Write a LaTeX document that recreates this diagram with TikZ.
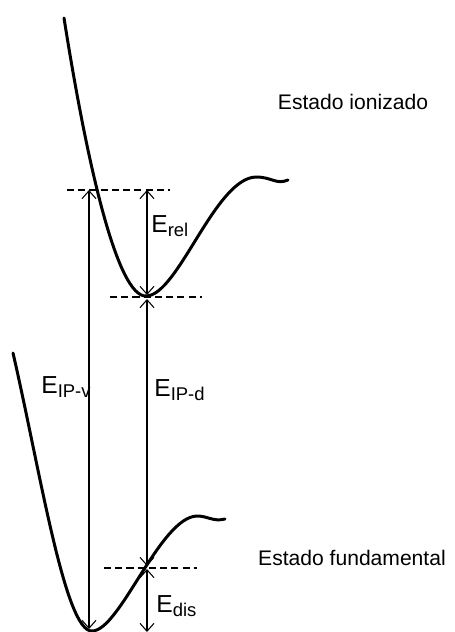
\documentclass[tikz,border=0pt]{standalone}
\usepackage{fontspec}
\setmainfont{Liberation Sans}
\usetikzlibrary{arrows.meta}
\newcommand{\enlabel}[1]{{\fontsize{14}{15}\selectfont E}{\fontsize{10.5}{11}\selectfont\raisebox{-2.8pt}{#1}}}
\begin{document}
\begin{tikzpicture}[x=0.02cm,y=-0.02cm,
    curve/.style={line width=1.7pt,line cap=round},
    level/.style={line width=0.6pt,dash pattern=on 4pt off 2.4pt},
    gap/.style={line width=0.6pt,{Straight Barb[length=4.5pt,width=8pt]}-{Straight Barb[length=4.5pt,width=8pt]}},
    state/.style={font=\fontsize{12}{14}\selectfont}]
    \useasboundingbox (0,0) rectangle (454,632);
    % --- ionized state curve ---
    \draw[curve] (64,18) .. controls (88,170) and (118,297) .. (146,296)
      .. controls (178,296) and (215,178) .. (256,177)
      .. controls (272,177) and (276,185) .. (288,180);
    % --- ground state curve ---
    \draw[curve] (13,353) .. controls (40,470) and (65,632) .. (92,631)
      .. controls (120,631) and (160,517) .. (197,516)
      .. controls (208,516) and (213,522) .. (225,519);
    % --- levels ---
    \coordinate (vtop) at (89,190);
    \coordinate (vbot) at (89,629);
    \coordinate (rtop) at (147,190);
    \coordinate (rbot) at (147,295);
    \coordinate (dtop) at (147,299);
    \coordinate (dbot) at (147,566);
    \coordinate (stop) at (147,569);
    \coordinate (sbot) at (147,632);
    \coordinate (la) at (67,190);  \coordinate (lb) at (170,190);
    \coordinate (lc) at (110,297); \coordinate (ld) at (202,297);
    \coordinate (le) at (104,568); \coordinate (lf) at (197,568);
    \draw[level] (la) -- (lb);
    \draw[level] (lc) -- (ld);
    \draw[level] (le) -- (lf);
    % --- energy gaps ---
    \draw[gap] (vtop) -- (vbot);
    \draw[gap] (rtop) -- (rbot);
    \draw[gap] (dtop) -- (dbot);
    \draw[gap] (stop) -- (sbot);
    \node[anchor=base west,inner sep=0] (eipv) at (41,393) {\enlabel{IP-v}};
    \node[anchor=base west,inner sep=0] (eipd) at (154,396) {\enlabel{IP-d}};
    \node[anchor=base west,inner sep=0] (erel) at (151,232) {\enlabel{rel}};
    \node[anchor=base west,inner sep=0] (edis) at (156,612) {\enlabel{dis}};
    % --- state names ---
    \node[state] (ion) at (353,102) {Estado ionizado};
    \node[state] (fund) at (352,558) {Estado fundamental};
\end{tikzpicture}
\end{document}
